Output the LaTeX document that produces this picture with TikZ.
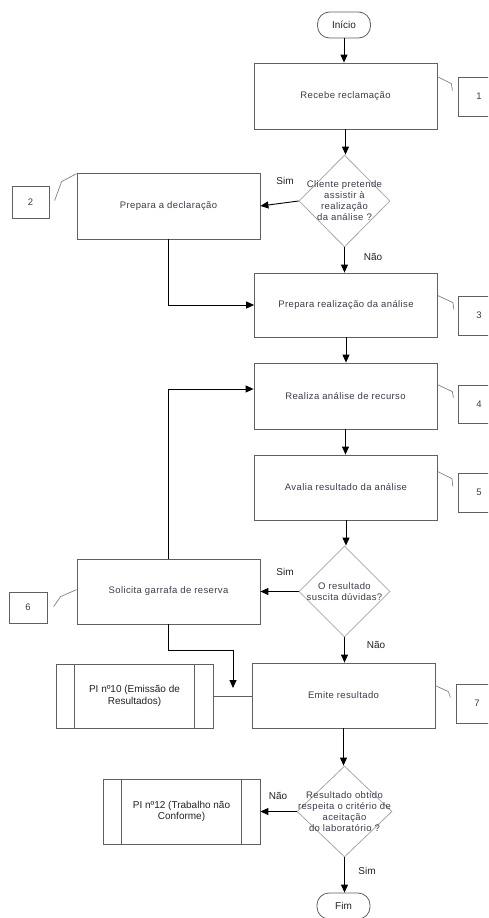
\documentclass[tikz,border=0pt]{standalone}
\usepackage{fontspec}
\setmainfont{Liberation Sans}
\newfontfamily\visfont[LetterSpace=4]{Liberation Sans}
\usetikzlibrary{shapes.geometric,arrows.meta,calc}
\definecolor{boxline}{HTML}{606060}
\definecolor{diaml}{HTML}{A8A8A8}
\definecolor{txt}{HTML}{3C3C4C}
\definecolor{lbltxt}{HTML}{222222}
\tikzset{
  proc/.style={draw=boxline, line width=0.8pt, fill=white, minimum width=183pt, minimum height=66pt, inner sep=0pt, font=\visfont\fontsize{9.5}{11}\selectfont, text=txt},
  term/.style={draw=boxline, line width=0.8pt, fill=white, rounded corners=12pt, minimum width=53pt, minimum height=26pt, inner sep=0pt, font=\fontsize{10}{12}\selectfont, text=lbltxt},
  diam/.style={diamond, draw=diaml, line width=0.8pt, fill=white, minimum width=91pt, minimum height=92pt, inner sep=0pt},
  dtext/.style={align=center, inner sep=0pt, font=\visfont\fontsize{9.5}{11}\selectfont, text=txt},
  annbox/.style={draw=boxline, line width=0.8pt, fill=white, minimum width=42pt, minimum height=39pt, inner sep=0pt, font=\fontsize{9.5}{11}\selectfont, text=txt},
  pibox/.style={draw=boxline, line width=0.8pt, fill=white, minimum width=157pt, minimum height=64pt, inner sep=0pt, align=center, font=\fontsize{10}{11.5}\selectfont, text=lbltxt},
  lbl/.style={inner sep=0pt, font=\fontsize{10}{12}\selectfont, text=lbltxt},
  flow/.style={-{Triangle[length=8pt,width=7pt]}, line width=0.9pt, black},
  plain/.style={line width=0.8pt, boxline},
  ann/.style={line width=0.7pt, draw=gray},
}
\begin{document}
\begin{tikzpicture}[x=1pt,y=-1pt]
\useasboundingbox (0,0) rectangle (488,918);
\fill[white] (0,0) rectangle (488,918);

% main nodes
\node[term] (inicio) at (344,25) {Início};
\node[proc] (rec) at (345.5,96) {Recebe reclamação};
\node[diam] (d1) at (344.5,201) {};
\node[dtext] (d1t) at (d1.center) {Cliente pretende\\assistir à\\realização\\da análise ?};
\node[proc] (decl) at (168.5,206) {Prepara a declaração};
\node[proc, minimum height=64pt] (prep) at (346,305) {Prepara realização da análise};
\node[proc] (real) at (345.5,396) {Realiza análise de recurso};
\node[proc, minimum height=65pt] (aval) at (346,487.5) {Avalia resultado da análise};
\node[diam, minimum height=91pt] (d2) at (344.5,591.5) {};
\node[dtext] (d2t) at (d2.center) {O resultado\\suscita dúvidas?};
\node[proc, minimum height=65pt] (sol) at (168.5,591.5) {Solicita garrafa de reserva};
\node[proc, minimum height=65pt] (emi) at (343.5,695.5) {Emite resultado};
\node[pibox] (pi10) at (134.5,696) {PI nº10 (Emissão de\\Resultados)};
\draw[plain] ([xshift=19pt]pi10.north west) -- ([xshift=19pt]pi10.south west);
\draw[plain] ([xshift=-19pt]pi10.north east) -- ([xshift=-19pt]pi10.south east);
\node[diam, minimum width=95pt, minimum height=91pt] (d3) at (344.5,811.5) {};
\node[dtext] (d3t) at (d3.center) {Resultado obtido\\respeita o critério de\\aceitação\\do laboratório ?};
\node[pibox, minimum height=65pt] (pi12) at (181.5,811.5) {PI nº12 (Trabalho não\\Conforme)};
\draw[plain] ([xshift=19pt]pi12.north west) -- ([xshift=19pt]pi12.south west);
\draw[plain] ([xshift=-19pt]pi12.north east) -- ([xshift=-19pt]pi12.south east);
\node[term] (fim) at (343.5,906) {Fim};

% annotation boxes
\begin{scope}
\clip (0,0) rectangle (488,918);
\node[annbox] (a1) at (479,96.5) {1};
\node[annbox, minimum width=37pt, minimum height=32pt] (a2) at (30.5,202) {2};
\node[annbox] (a3) at (479,315.5) {3};
\node[annbox, minimum height=38pt] (a4) at (479,404) {4};
\node[annbox] (a5) at (479,492.5) {5};
\node[annbox, minimum width=38pt, minimum height=31pt] (a6) at (28,607.5) {6};
\node[annbox] (a7) at (477,703.5) {7};
\end{scope}

% annotation leaders
\draw[ann] ([yshift=-14pt]rec.north east) -- ++(14,7) -- ++(1,7);
\draw[ann] ([yshift=-1pt]decl.north west) -- ++(-15,8) -- ++(-7,19);
\draw[ann] ([yshift=-23pt]prep.north east) -- ++(15,7) -- ++(1,7);
\draw[ann] ([yshift=-22pt]real.north east) -- ++(15,7) -- ++(1,6);
\draw[ann] ([yshift=-17pt]aval.north east) -- ++(14,7) -- ++(1,8);
\draw[ann] ([yshift=-31pt]sol.north west) -- ++(-16,7) -- ++(-7,10);
\draw[ann] ([yshift=-23pt]emi.north east) -- ++(13,6) -- ++(2,6);

% flow connectors
\draw[flow] (inicio.south) -- (inicio.south |- rec.north);
\draw[flow] (rec.south) -- (rec.south |- d1.north);
\draw[flow] (d1.west) -- (decl.east);
\node[lbl] (s1) at (285,181) {Sim};
\draw[flow] (d1.south) -- (d1.south |- prep.north);
\node[lbl] (n1) at (373,257) {Não};
\draw[flow] (decl.south) |- (prep.west);
\draw[flow] (prep.south) -- (prep.south |- real.north);
\draw[flow] (sol.north) |- ([yshift=7pt]real.west);
\draw[flow] (real.south) -- (real.south |- aval.north);
\draw[flow] (aval.south) -- (aval.south |- d2.north);
\draw[flow] (d2.west) -- (sol.east);
\node[lbl] (s2) at (285,572) {Sim};
\draw[flow] (d2.south) -- (d2.south |- emi.north);
\node[lbl] (n2) at (376,645) {Não};
\coordinate (m1) at (233,688);
\draw[flow] (sol.south) -- ++(0,26) -| (m1);
\draw[plain] (pi10.east) -- (pi10.east -| emi.west);
\draw[flow] (emi.south) -- (emi.south |- d3.north);
\draw[flow] (d3.west) -- (pi12.east);
\node[lbl] (n3) at (278,796) {Não};
\draw[flow] (d3.south) -- (d3.south |- fim.north);
\node[lbl] (s3) at (367,871) {Sim};
\end{tikzpicture}
\end{document}
